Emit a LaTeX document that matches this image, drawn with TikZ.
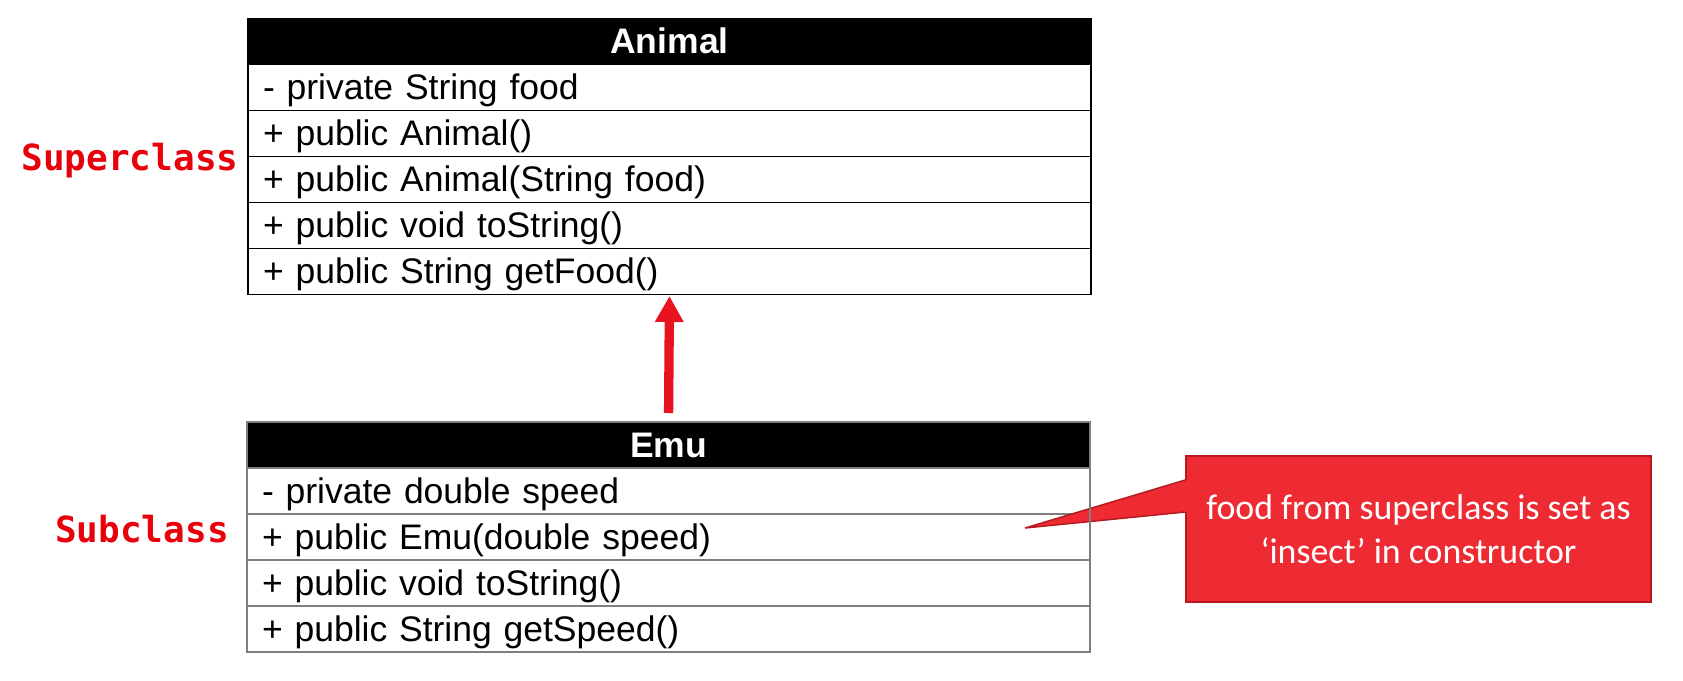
\documentclass[tikz,border=0pt]{standalone}
\usepackage{fontspec}
\setmainfont{Liberation Sans}
\newfontfamily\notefont{Carlito}
\newfontfamily\labelfont{DejaVu Sans Mono}
\usetikzlibrary{positioning}
\usetikzlibrary{arrows.meta}
\definecolor{arrowred}{HTML}{E8131F}
\definecolor{labelred}{HTML}{E8000B}
\definecolor{notered}{HTML}{EE2A33}
\definecolor{noteedge}{HTML}{B41A20}
\definecolor{rulegray}{HTML}{7F7F7F}

\tikzset{
  classhead/.style={draw=black, line width=1.3pt, fill=black, text=white,
    font=\fontsize{35.5pt}{40pt}\selectfont\bfseries,
    minimum width=843pt, minimum height=46pt, inner sep=0pt, outer sep=0pt,
    text height=25pt, text depth=0pt},
  member/.style={draw=black, line width=1.3pt,
    font=\fontsize{35.5pt}{40pt}\selectfont,
    minimum width=843pt, minimum height=46pt, inner xsep=15pt, inner ysep=0pt,
    outer sep=0pt, text width=813pt, align=left,
    text height=25pt, text depth=0pt},
  rolelabel/.style={text=labelred, font=\labelfont\bfseries\fontsize{36pt}{40pt}\selectfont,
    anchor=base, inner sep=0pt}
}

\begin{document}
\begin{tikzpicture}[x=1pt, y=-1pt, node distance=0pt]
        \useasboundingbox (0,0) rectangle (1683,680);

        % Superclass
        \node[classhead] (animal) at (669.5,41.3) {Animal};
        \node[member, below=of animal] (animalfood) {- private String food};
        \node[member, below=of animalfood] (animalctor) {+ public Animal()};
        \node[member, below=of animalctor] (animalctorfood) {+ public Animal(String food)};
        \node[member, below=of animalctorfood] (animaltostring) {+ public void toString()};
        \node[member, below=of animaltostring] (animalgetfood) {+ public String getFood()};

        % Subclass
        \node[classhead, draw=rulegray] (emu) at (668.5,445) {Emu};
        \node[member, draw=rulegray, below=of emu] (emuspeed) {- private double speed};
        \node[member, draw=rulegray, below=of emuspeed] (emuctor) {+ public Emu(double speed)};
        \node[member, draw=rulegray, below=of emuctor] (emutostring) {+ public void toString()};
        \node[member, draw=rulegray, below=of emutostring] (emugetspeed) {+ public String getSpeed()};

        % Labels
        \node[rolelabel] (superlabel) at (130,170) {Superclass};
        \node[rolelabel] (sublabel) at (142,542) {Subclass};

        % Inheritance
        \draw[arrowred, line width=9.3pt, -{Triangle[width=27pt, length=26pt]},
          shorten <=9pt, shorten >=1.7pt] (emu.north) -- (animalgetfood.south);

        % Callout
        \node[draw=noteedge, line width=1.5pt, fill=notered, text=white,
          minimum width=465pt, minimum height=146pt, align=center,
          font=\notefont\fontsize{35.8pt}{44pt}\selectfont] (note) at (1418.5,529)
          {food from superclass is set as\\‘insect’ in constructor};
        \coordinate (notetip) at (1025,528);
        \fill[notered] ([xshift=2pt, yshift=49pt]note.west) -- (notetip)
          -- ([xshift=2pt, yshift=17pt]note.west) -- cycle;
        \draw[noteedge, line width=1.5pt] ([yshift=49pt]note.west) -- (notetip)
          -- ([yshift=17pt]note.west);

        % Box edge over the callout
        \draw[rulegray, line width=1.3pt] (emu.north east) -- (emugetspeed.south east);
\end{tikzpicture}
\end{document}
